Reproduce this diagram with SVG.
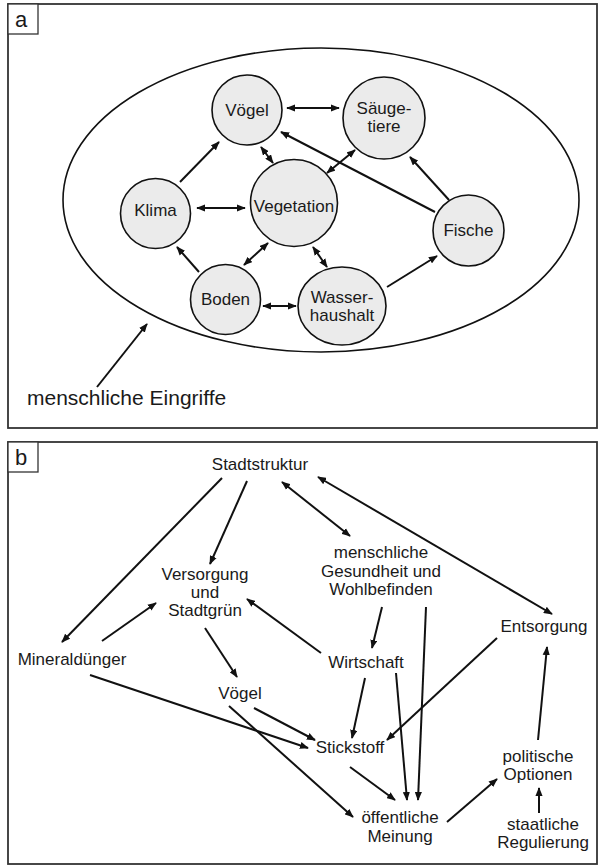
<svg xmlns="http://www.w3.org/2000/svg" width="600" height="868" viewBox="0 0 600 868">
<style>
.frame{fill:#fff;stroke:#333;stroke-width:1.8}
.lbl{fill:#fff;stroke:#333;stroke-width:1.3}
.node{fill:#ebebeb;stroke:#111;stroke-width:1.6}
.ell{fill:none;stroke:#111;stroke-width:1.6}
text{font-family:"Liberation Sans",Arial,sans-serif;fill:#1a1a1a}
.t{font-size:17px;text-anchor:middle}
.big{font-size:21px}
.pl{font-size:22px}
.c line{stroke:#111;stroke-width:2;fill:none}
.s{marker-end:url(#ah)}
.d{marker-end:url(#ah);marker-start:url(#ah)}
</style>
<defs>
<marker id="ah" viewBox="0 0 10 8" refX="9" refY="4" markerWidth="9" markerHeight="7.5" markerUnits="userSpaceOnUse" orient="auto-start-reverse">
<path d="M0,0 L10,4 L0,8 z" fill="#111"/>
</marker>
</defs>

<!-- Panel a -->
<rect class="frame" x="8" y="4" width="589" height="424"/>
<rect class="lbl" x="8" y="4" width="30" height="30"/>
<text class="pl" x="15" y="27">a</text>

<ellipse class="ell" cx="321" cy="200" rx="258" ry="152"/>

<g id="a-voegel"><circle class="node" cx="247" cy="110" r="35"/><text class="t" x="247" y="116">Vögel</text></g>
<g id="a-saeugetiere"><circle class="node" cx="384" cy="118" r="41"/><text class="t" x="384" y="114">Säuge-</text><text class="t" x="384" y="132">tiere</text></g>
<g id="a-klima"><circle class="node" cx="155.5" cy="213.5" r="35"/><text class="t" x="155.5" y="216">Klima</text></g>
<g id="a-vegetation"><circle class="node" cx="294" cy="203" r="43.5"/><text class="t" x="294" y="212">Vegetation</text></g>
<g id="a-fische"><circle class="node" cx="468.5" cy="230.5" r="35.5"/><text class="t" x="468.5" y="236">Fische</text></g>
<g id="a-boden"><circle class="node" cx="225.5" cy="299.5" r="35"/><text class="t" x="225.5" y="305">Boden</text></g>
<g id="a-wasser"><ellipse class="node" cx="342" cy="306" rx="44" ry="39"/><text class="t" x="342" y="303">Wasser-</text><text class="t" x="342" y="321">haushalt</text></g>
<text class="big" x="27" y="405">menschliche Eingriffe</text>

<g id="a-connectors" class="c">
<line class="d" x1="287" y1="108" x2="339" y2="108"/>
<line class="s" x1="180" y1="182" x2="219" y2="142"/>
<line class="d" x1="261" y1="147" x2="273" y2="163"/>
<line class="s" x1="435" y1="212" x2="281" y2="132"/>
<line class="d" x1="327" y1="173" x2="355" y2="150"/>
<line class="s" x1="449" y1="200" x2="410" y2="157"/>
<line class="d" x1="197" y1="208" x2="245" y2="208"/>
<line class="s" x1="199" y1="272" x2="177" y2="247"/>
<line class="d" x1="244" y1="265" x2="268" y2="243"/>
<line class="d" x1="263" y1="306" x2="296" y2="306"/>
<line class="d" x1="313" y1="247" x2="327" y2="267"/>
<line class="s" x1="387" y1="287" x2="437" y2="256"/>
<line class="s" x1="97" y1="387" x2="147" y2="324"/>
</g>

<!-- Panel b -->
<rect class="frame" x="8" y="442" width="589" height="422"/>
<rect class="lbl" x="8" y="442" width="30" height="30"/>
<text class="pl" x="15" y="465">b</text>

<g id="b-stadtstruktur"><text class="t" x="260" y="470">Stadtstruktur</text></g>
<g id="b-versorgung"><text class="t" x="205" y="580">Versorgung</text><text class="t" x="205" y="598">und</text><text class="t" x="205" y="616">Stadtgrün</text></g>
<g id="b-gesundheit"><text class="t" x="381" y="558">menschliche</text><text class="t" x="381" y="577">Gesundheit und</text><text class="t" x="381" y="595">Wohlbefinden</text></g>
<g id="b-entsorgung"><text class="t" x="544" y="632">Entsorgung</text></g>
<g id="b-mineral"><text class="t" x="72" y="665">Mineraldünger</text></g>
<g id="b-wirtschaft"><text class="t" x="366" y="668">Wirtschaft</text></g>
<g id="b-voegel"><text class="t" x="240" y="699">Vögel</text></g>
<g id="b-stickstoff"><text class="t" x="350" y="753">Stickstoff</text></g>
<g id="b-politik"><text class="t" x="538" y="762">politische</text><text class="t" x="538" y="780">Optionen</text></g>
<g id="b-meinung"><text class="t" x="400" y="823">öffentliche</text><text class="t" x="400" y="842">Meinung</text></g>
<g id="b-regulierung"><text class="t" x="543" y="830">staatliche</text><text class="t" x="543" y="848">Regulierung</text></g>

<g id="b-connectors" class="c">
<line class="s" x1="222" y1="478" x2="62" y2="642"/>
<line class="s" x1="247" y1="481" x2="210" y2="564"/>
<line class="d" x1="282" y1="482" x2="350" y2="536"/>
<line class="d" x1="318" y1="477" x2="552" y2="614"/>
<line class="s" x1="102" y1="641" x2="156" y2="603"/>
<line class="s" x1="321" y1="653" x2="247" y2="599"/>
<line class="s" x1="205" y1="628" x2="237" y2="677"/>
<line class="s" x1="382" y1="607" x2="372" y2="648"/>
<line class="s" x1="426" y1="607" x2="418" y2="800"/>
<line class="s" x1="497" y1="638" x2="387" y2="740"/>
<line class="s" x1="365" y1="678" x2="352" y2="738"/>
<line class="s" x1="396" y1="673" x2="407" y2="800"/>
<line class="s" x1="90" y1="675" x2="308" y2="748"/>
<line class="s" x1="254" y1="708" x2="315" y2="740"/>
<line class="s" x1="229" y1="706" x2="353" y2="817"/>
<line class="s" x1="350" y1="767" x2="395" y2="800"/>
<line class="s" x1="447" y1="822" x2="497" y2="779"/>
<line class="s" x1="538" y1="740" x2="547" y2="647"/>
<line class="s" x1="539" y1="813" x2="539" y2="788"/>
</g>
</svg>
